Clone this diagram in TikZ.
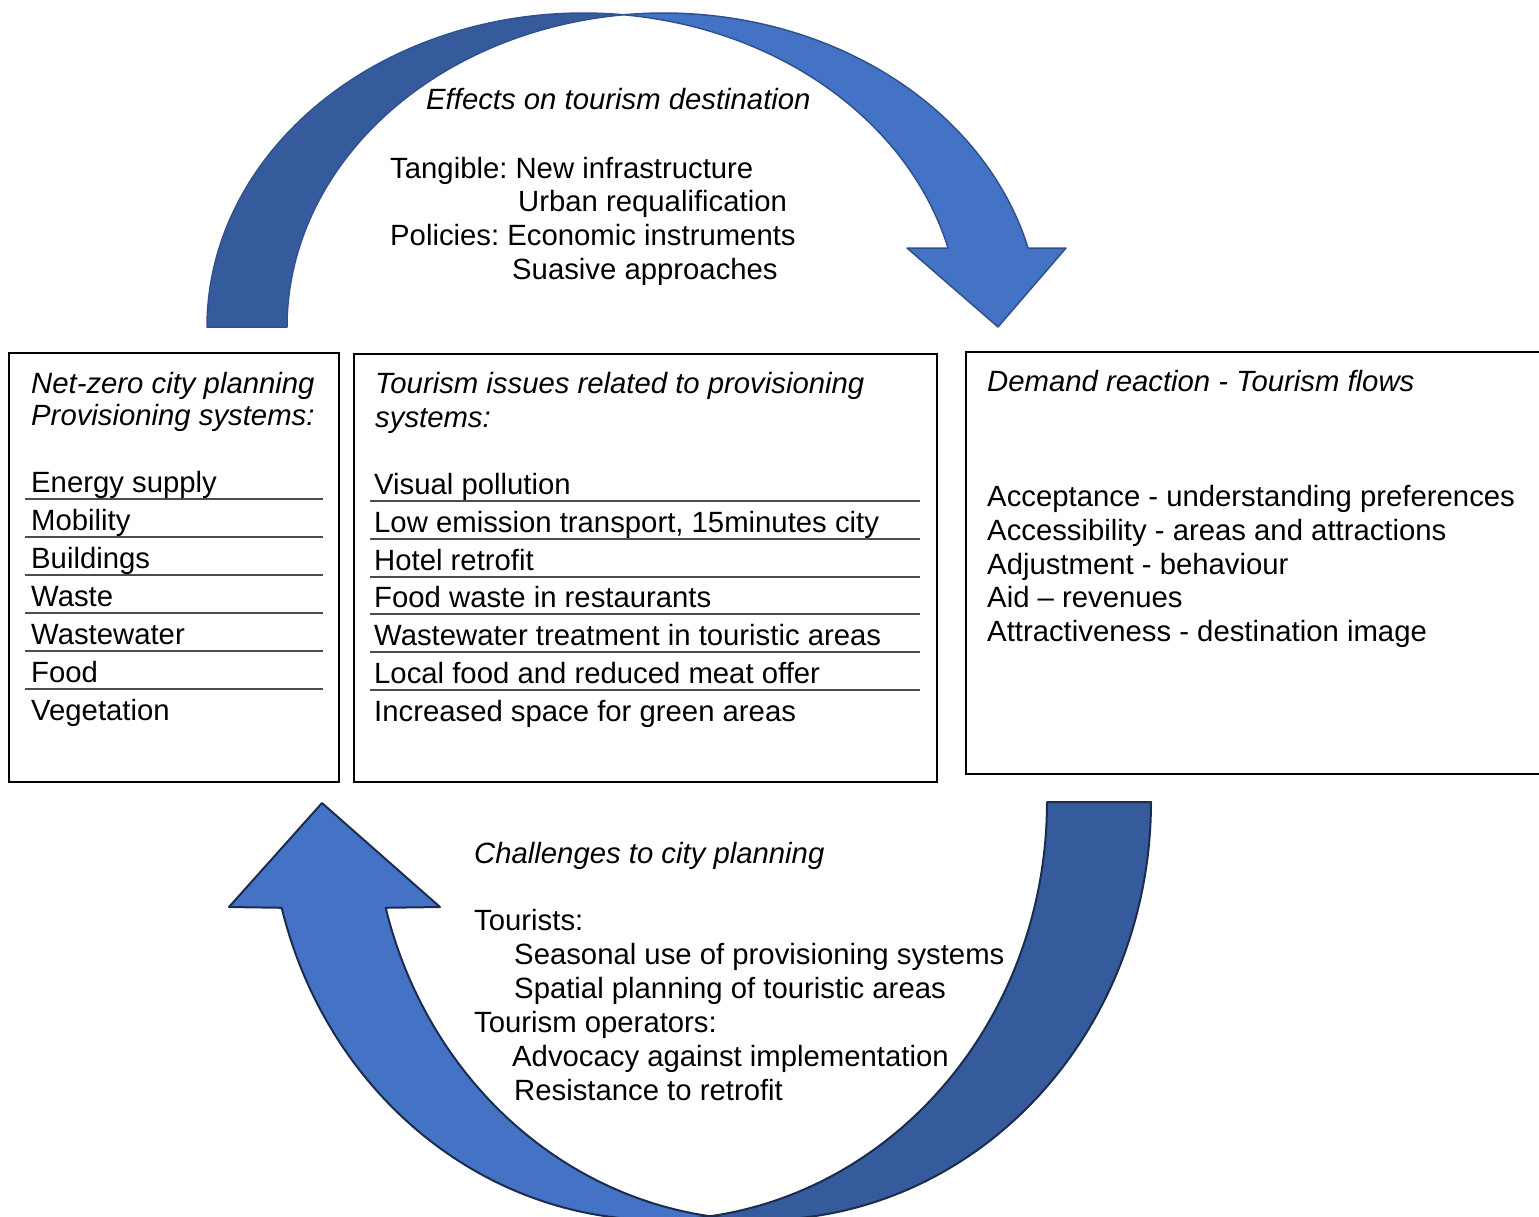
\documentclass[tikz,border=0pt]{standalone}
\usepackage{fontspec}
\setmainfont{Liberation Sans}
\frenchspacing
\definecolor{lightblue}{HTML}{4472C4}
\definecolor{darkblue}{HTML}{365B9D}
\definecolor{topline}{HTML}{2F528F}
\definecolor{botline}{HTML}{1B2D4F}
\begin{document}
\begin{tikzpicture}[x=1pt,y=-1pt,
  txt/.style={anchor=base west, inner sep=0pt, font=\fontsize{29.3}{34}\selectfont},
  itxt/.style={anchor=base west, inner sep=0pt, font=\fontsize{29.3}{34}\selectfont\itshape},
  panel/.style={draw=black, line width=2pt, inner sep=0pt},
  sepline/.style={draw=black!70, line width=1.4pt},
  toparrow/.style={draw=topline, line width=1.5pt, line join=round},
  botarrow/.style={draw=botline, line width=2pt, line join=round},
  ]
\useasboundingbox (0,0) rectangle (1539,1216);
\clip (0,0) rectangle (1539,1216);

% ---------- top curved arrow ----------
\fill[darkblue, toparrow]
  plot[domain=180:83.9, samples=90] ({583.6+376.6*cos(\x)},{327-314*sin(\x)})
  -- plot[domain=96.1:180, samples=90] ({663.6+376.6*cos(\x)},{327-314*sin(\x)})
  -- cycle;
\fill[lightblue, toparrow]
  plot[domain=96.1:14.57, samples=90] ({663.6+376.6*cos(\x)},{327-314*sin(\x)})
  -- (1066,248) -- (998,327) -- (907,248)
  -- plot[domain=14.57:83.9, samples=90] ({583.6+376.6*cos(\x)},{327-314*sin(\x)})
  -- cycle;

% ---------- bottom curved arrow ----------
\fill[darkblue, botarrow]
  plot[domain=0:97.68, samples=90] ({762+389*cos(\x)},{802+418*sin(\x)})
  -- plot[domain=82.32:0, samples=90] ({658+389*cos(\x)},{802+418*sin(\x)})
  -- cycle;
\fill[lightblue, botarrow]
  plot[domain=82.32:165.34, samples=90] ({658+389*cos(\x)},{802+418*sin(\x)})
  -- (229,907) -- (322,803) -- (440,907)
  -- plot[domain=165.34:97.68, samples=90] ({762+389*cos(\x)},{802+418*sin(\x)})
  -- cycle;

% ---------- boxes ----------
\node[panel, minimum width=330, minimum height=429] (netzero) at (174,567.5) {};
\node[panel, minimum width=583, minimum height=428] (issues) at (645.5,568) {};
\node[panel, minimum width=594, minimum height=422] (demand) at (1263,563) {};

% ---------- top text ----------
\node[itxt] (effects) at (426,109) {Effects on tourism destination};
\node[txt] (tang) at (390,178) {Tangible: New infrastructure};
\node[txt] (urban) at (518,211) {Urban requalification};
\node[txt] (pol) at (390,245) {Policies: Economic instruments};
\node[txt] (suas) at (512,279) {Suasive approaches};

% ---------- left box ----------
\node[itxt] (nz1) at (31,393) {Net-zero city planning};
\node[itxt] (nz2) at (31,425) {Provisioning systems:};
\node[txt] (l1) at (31,492) {Energy supply};
\node[txt] (l2) at (31,530) {Mobility};
\node[txt] (l3) at (31,568) {Buildings};
\node[txt] (l4) at (31,606) {Waste};
\node[txt] (l5) at (31,644) {Wastewater};
\node[txt] (l6) at (31,682) {Food};
\node[txt] (l7) at (31,720) {Vegetation};
\foreach \y in {499,537,575,613,651,689}
  \draw[sepline] (25,\y) -- (323,\y);

% ---------- middle box ----------
\node[itxt] (ti1) at (375,393) {Tourism issues related to provisioning};
\node[itxt] (ti2) at (375,427) {systems:};
\node[txt] (m1) at (374,494) {Visual pollution};
\node[txt] (m2) at (374,532) {Low emission transport, 15minutes city};
\node[txt] (m3) at (374,570) {Hotel retrofit};
\node[txt] (m4) at (374,607) {Food waste in restaurants};
\node[txt] (m5) at (374,645) {Wastewater treatment in touristic areas};
\node[txt] (m6) at (374,683) {Local food and reduced meat offer};
\node[txt] (m7) at (374,721) {Increased space for green areas};
\foreach \y in {501,539,577,614,652,690}
  \draw[sepline] (370,\y) -- (920,\y);

% ---------- right box ----------
\node[itxt] (dr) at (987,391) {Demand reaction - Tourism flows};
\node[txt] (r1) at (987,506) {Acceptance - understanding preferences};
\node[txt] (r2) at (987,540) {Accessibility - areas and attractions};
\node[txt] (r3) at (987,574) {Adjustment - behaviour};
\node[txt] (r4) at (987,607) {Aid – revenues};
\node[txt] (r5) at (987,641) {Attractiveness - destination image};

% ---------- bottom text ----------
\node[itxt] (chal) at (474,863) {Challenges to city planning};
\node[txt] (tour) at (474,930) {Tourists:};
\node[txt] (b1) at (514,964) {Seasonal use of provisioning systems};
\node[txt] (b2) at (514,998) {Spatial planning of touristic areas};
\node[txt] (ops) at (474,1032) {Tourism operators:};
\node[txt] (b3) at (512,1066) {Advocacy against implementation};
\node[txt] (b4) at (514,1100) {Resistance to retrofit};
\end{tikzpicture}
\end{document}
